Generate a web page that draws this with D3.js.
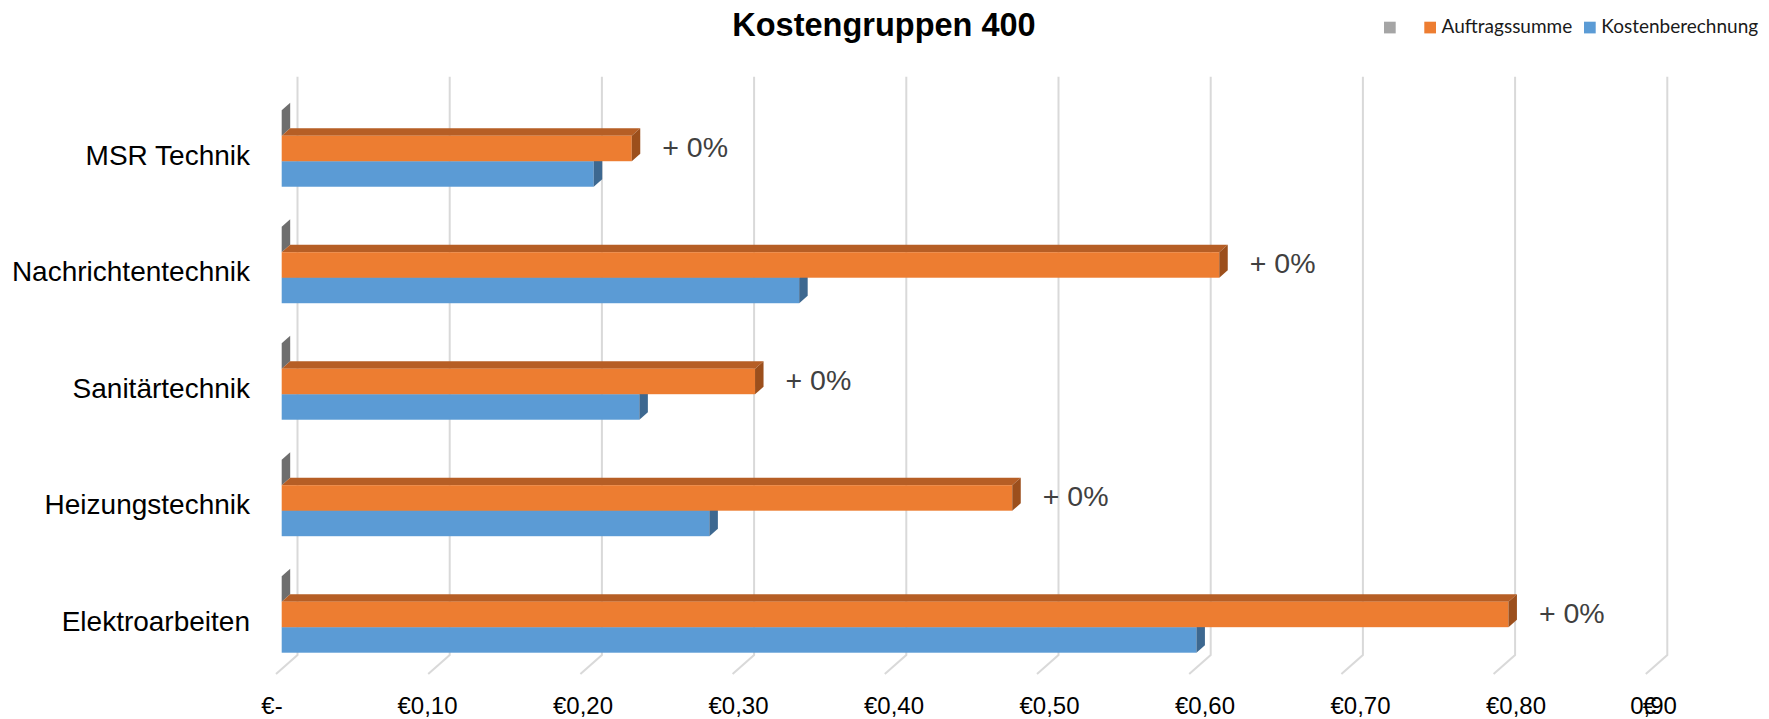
<!DOCTYPE html>
<html><head><meta charset="utf-8">
<script src="https://cdn.jsdelivr.net/npm/d3@7"></script>
<style>html,body{margin:0;padding:0;background:#fff;overflow:hidden}</style>
</head><body>
<svg id="chart" width="1769" height="719"></svg>
<script>
// ---- data ----
const categories = ["MSR Technik","Nachrichtentechnik","Sanitärtechnik","Heizungstechnik","Elektroarbeiten"];
const seriesNames = ["", "Auftragssumme", "Kostenberechnung"];
const seriesColors = ["#A5A5A5", "#ED7D31", "#5B9BD5"];
const grauValues = [0, 0, 0, 0, 0];
const auftragssumme = [0.23, 0.616, 0.311, 0.48, 0.806];
const kostenberechnung = [0.205, 0.34, 0.235, 0.281, 0.601];
const dataLabels = ["+ 0%", "+ 0%", "+ 0%", "+ 0%", "+ 0%"];
const tickValues = [0, 0.1, 0.2, 0.3, 0.4, 0.5, 0.6, 0.7, 0.8, 0.9];
const tickLabels = ["€-", "€0,10", "€0,20", "€0,30", "€0,40", "€0,50", "€0,60", "€0,70", "€0,80", "€0,90"];
const title = "Kostengruppen 400";

// ---- layout ----
const svg = d3.select("#chart");
const wallX0 = 297.5, step = 152.2;
const xWall = d3.scaleLinear().domain([0, 0.9]).range([wallX0, wallX0 + 9 * step]);
const barShift = -15.8;                       // bar front plane relative to wall
const xBar = v => xWall(v) + barShift;
const depth = {dx: 8.5, dy: -7.5};            // 3D bar depth
const wallTop = 76.7, wallBottom = 655, floor = {dx: -21.5, dy: 19};
const labelX = d3.scaleLinear().domain([0, 0.8]).range([272, 1516]);
const tickY = 714;

const y = d3.scaleBand().domain(categories).range([90.2, 672.7]).paddingInner(0.343).paddingOuter(0.1717);
const ys = d3.scaleBand().domain([0, 1, 2]).range([0, y.bandwidth()]);

// gridlines (wall + floor)
svg.append("g").selectAll("path").data(tickValues).join("path")
  .attr("d", v => `M${xWall(v)},${wallTop}V${wallBottom}L${xWall(v) + floor.dx},${wallBottom + floor.dy}`)
  .attr("fill", "none").attr("stroke", "#D9D9D9").attr("stroke-width", 2);

const poly = pts => "M" + pts.map(p => p.join(",")).join("L") + "Z";
function bar3d(g, x0, x1, yt, h, front, top, side) {
  const {dx, dy} = depth;
  g.append("path").attr("d", poly([[x0, yt], [x0 + dx, yt + dy], [x1 + dx, yt + dy], [x1, yt]])).attr("fill", top);
  if (x1 > x0) g.append("rect").attr("x", x0).attr("y", yt).attr("width", x1 - x0).attr("height", h).attr("fill", front);
  g.append("path").attr("d", poly([[x1, yt], [x1 + dx, yt + dy], [x1 + dx, yt + h + dy], [x1, yt + h]])).attr("fill", side);
}

const bars = svg.append("g");
categories.forEach((c, i) => {
  const g = bars.append("g");
  const h = ys.bandwidth();
  const x0 = xBar(0);
  // gray (zero) series
  bar3d(g, x0, xBar(grauValues[i]), y(c) + ys(0), h, "#A5A5A5", "#8C8C8C", "#6E6E6E");
  // Kostenberechnung (bottom)
  bar3d(g, x0, xBar(kostenberechnung[i]), y(c) + ys(2), h, "#5B9BD5", "#4A80B2", "#3D6890");
  // Auftragssumme (middle)
  bar3d(g, x0, xBar(auftragssumme[i]), y(c) + ys(1), h, "#ED7D31", "#B65E25", "#9C4F1C");
  // data label
  g.append("text")
    .attr("x", xBar(auftragssumme[i]) + depth.dx + 22)
    .attr("y", y(c) + ys(1) + h / 2 + 8.5)
    .attr("font-family", "Liberation Sans, Arial, sans-serif").attr("font-size", 28.5)
    .attr("fill", "#404040").text(dataLabels[i]);
});

// category labels
svg.append("g").selectAll("text").data(categories).join("text")
  .attr("x", 250).attr("y", c => y(c) + y.bandwidth() / 2 + 16.5)
  .attr("text-anchor", "end")
  .attr("font-family", "Liberation Sans, Arial, sans-serif").attr("font-size", 28)
  .attr("fill", "#000").text(c => c);

// tick labels
const tl = svg.append("g").attr("font-family", "Liberation Sans, Arial, sans-serif").attr("font-size", 24).attr("fill", "#000");
tickValues.forEach((v, i) => {
  const lbl = tickLabels[i];
  if (i === tickValues.length - 1) {
    // last label rendered overlapped as in the original
    const cx = labelX(v) - 18;
    tl.append("text").attr("x", cx).attr("y", tickY).attr("text-anchor", "middle").text(lbl.slice(1));
    tl.append("text").attr("x", cx - 4).attr("y", tickY).attr("text-anchor", "middle").text(lbl.slice(0, 1));
  } else {
    tl.append("text").attr("x", labelX(v)).attr("y", tickY).attr("text-anchor", "middle").text(lbl);
  }
});

// title
svg.append("text").attr("x", 884).attr("y", 36).attr("text-anchor", "middle")
  .attr("font-family", "Liberation Sans, Arial, sans-serif").attr("font-weight", "bold")
  .attr("font-size", 32.5).attr("fill", "#000").text(title);

// legend
const legX = [1384, 1424.3, 1584];
const lg = svg.append("g");
seriesNames.forEach((s, i) => {
  lg.append("rect").attr("x", legX[i]).attr("y", 21.7).attr("width", 11.7).attr("height", 11.7).attr("fill", seriesColors[i]);
  if (s) lg.append("text").attr("x", legX[i] + 17.3).attr("y", 33.3)
    .attr("font-family", "Lato, Carlito, sans-serif").attr("font-size", 19).attr("fill", "#1a1a1a").text(s);
});
</script>
</body></html>
